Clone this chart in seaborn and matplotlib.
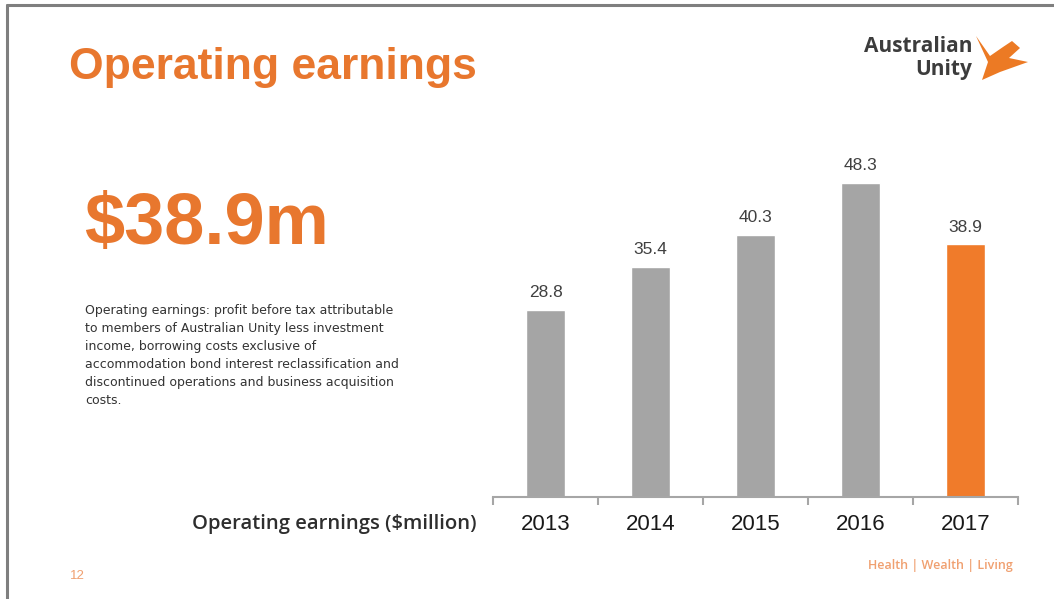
import numpy as np
import matplotlib
matplotlib.use('Agg')
import matplotlib.pyplot as plt
from matplotlib.lines import Line2D
import seaborn as sns

# Chart data
years = ['2013', '2014', '2015', '2016', '2017']
earnings = [28.8, 35.4, 40.3, 48.3, 38.9]
value_labels = ['28.8', '35.4', '40.3', '48.3', '38.9']

GRAY = '#a5a5a5'
ORANGE = '#f07b2a'
TEXT_ORANGE = '#e8772e'
bar_colors = [GRAY, GRAY, GRAY, GRAY, ORANGE]

headline = '$38.9m'
note = ('Operating earnings: profit before tax attributable\n'
        'to members of Australian Unity less investment\n'
        'income, borrowing costs exclusive of\n'
        'accommodation bond interest reclassification and\n'
        'discontinued operations and business acquisition\n'
        'costs.')

sns.set_style('white')
plt.rcParams['font.family'] = ['Liberation Sans', 'DejaVu Sans']

fig = plt.figure(figsize=(10.54, 5.99), dpi=100)
W, H = 1054, 599

def fx(px):
    return px / W

def fy(py):
    return 1 - py / H

# slide border (top and left)
fig.add_artist(Line2D([fx(7), 1.0], [fy(5), fy(5)], color='#7f7f7f', lw=2.2))
fig.add_artist(Line2D([fx(7), fx(7)], [fy(5), 0.0], color='#7f7f7f', lw=2.2))

# bar chart
ax = fig.add_axes([fx(493), fy(497), fx(1018) - fx(493), (497 - 150) / H])
sns.barplot(x=years, y=earnings, hue=years, palette=bar_colors, width=0.38,
            legend=False, saturation=1, ax=ax)
for cont, lab in zip(ax.containers, value_labels):
    ax.bar_label(cont, labels=[lab], padding=7, fontsize=12.5, color='#404040')

ax.set_xlim(-0.5, 4.5)
ax.set_ylim(0, 53.4)
ax.set_yticks([])
ax.set_xlabel('')
ax.set_ylabel('')
for s in ['top', 'right', 'left']:
    ax.spines[s].set_visible(False)
ax.spines['bottom'].set_color('#a6a6a6')
ax.spines['bottom'].set_linewidth(1.5)
ax.set_xticks(np.arange(len(years)))
ax.set_xticklabels(years, fontsize=16, color='#1a1a1a')
ax.set_xticks(np.arange(len(years) + 1) - 0.5, minor=True)
ax.tick_params(axis='x', which='major', length=0, pad=12)
ax.tick_params(axis='x', which='minor', length=6, width=1.5, color='#a6a6a6',
               direction='out', bottom=True)

# category axis caption
fig.text(fx(477), fy(524), 'Operating earnings ($million)', ha='right', va='center',
         fontsize=14.6, fontweight='semibold', color='#2e2e2e',
         family=['Open Sans', 'DejaVu Sans'])

# title and headline
fig.text(fx(69), fy(68), 'Operating earnings', ha='left', va='center',
         fontsize=32, fontweight='bold', color=TEXT_ORANGE)
fig.text(fx(84), fy(225), headline, ha='left', va='center',
         fontsize=52, fontweight='bold', color=TEXT_ORANGE)
fig.text(fx(85), fy(304), note, ha='left', va='top', fontsize=9,
         color='#333333', linespacing=1.5, family=['DejaVu Sans'])

# logo
fig.text(fx(972), fy(46), 'Australian', ha='right', va='center', fontsize=15,
         fontweight='bold', color='#3c3c3c', family=['Open Sans', 'DejaVu Sans'])
fig.text(fx(972), fy(70), 'Unity', ha='right', va='center', fontsize=15,
         fontweight='bold', color='#3c3c3c', family=['Open Sans', 'DejaVu Sans'])
bird = plt.Polygon([[fx(976), fy(36)], [fx(990), fy(56)], [fx(1003), fy(47)],
                    [fx(1012), fy(41)], [fx(1020), fy(48)], [fx(1009), fy(58)],
                    [fx(1028), fy(62)], [fx(1000), fy(72)], [fx(982), fy(80)],
                    [fx(988), fy(62)]], closed=True, transform=fig.transFigure,
                   facecolor='#ec7a24', edgecolor='none')
fig.add_artist(bird)

# footer
fig.text(fx(1013), fy(566), 'Health | Wealth | Living', ha='right', va='center',
         fontsize=9, fontweight='semibold', color='#f0a070',
         family=['Open Sans', 'DejaVu Sans'])
fig.text(fx(70), fy(576), '12', ha='left', va='center', fontsize=9.5,
         color='#f0a070')

fig.savefig('out.png', dpi=100)
plt.close(fig)
